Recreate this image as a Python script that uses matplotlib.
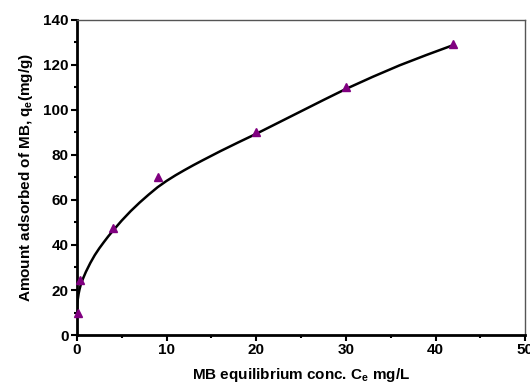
import matplotlib
matplotlib.use("Agg")
import matplotlib.pyplot as plt
from matplotlib.ticker import MultipleLocator

plt.rcParams['font.family'] = ['Liberation Sans', 'DejaVu Sans']
plt.rcParams['font.weight'] = 'bold'
plt.rcParams['mathtext.fontset'] = 'custom'
plt.rcParams['mathtext.rm'] = 'Liberation Sans:bold'
plt.rcParams['mathtext.it'] = 'Liberation Sans:bold'
plt.rcParams['mathtext.bf'] = 'Liberation Sans:bold'

# measured points
ce = [0.1, 0.4, 4, 9, 20, 30, 42]
qe = [9.8, 24.5, 47.5, 70.3, 90.2, 110.2, 129]

# fitted curve
fit_c = [0, 0.05, 0.1, 0.2, 0.3, 0.45, 0.7, 1, 1.5, 2, 2.5, 3, 3.5, 4, 5, 6,
         7, 8, 9, 10, 11, 12, 13, 14, 16, 18, 20, 22.5, 25, 27.5, 30, 33, 36,
         39, 42]
fit_q = [10, 14, 15.8, 18.4, 20.3, 22.6, 25.2, 28, 32, 35.5, 38.5, 41.2,
         43.8, 46.2, 50.8, 55, 58.8, 62.3, 65.6, 68.4, 70.9, 73.2, 75.4, 77.5,
         81.6, 85.5, 89.3, 94.3, 99.3, 104.3, 109.2, 114.6, 119.7, 124.3, 128.7]

fig = plt.figure(figsize=(5.3, 3.83), dpi=100)
ax = fig.add_axes([0.145, 0.125, 0.846, 0.824])

ax.plot(fit_c, fit_q, color='black', lw=1.8, zorder=2)
ax.plot(ce, qe, '^', color='#800080', ms=6, zorder=3, clip_on=False)

ax.set_xlim(0, 50)
ax.set_ylim(0, 140)
ax.xaxis.set_major_locator(MultipleLocator(10))
ax.xaxis.set_minor_locator(MultipleLocator(5))
ax.yaxis.set_major_locator(MultipleLocator(20))
ax.yaxis.set_minor_locator(MultipleLocator(10))
ax.tick_params(which='both', direction='out', width=1.5, labelsize=11,
               top=False, right=False, pad=2)
ax.tick_params(which='major', length=4)
ax.tick_params(which='minor', length=2.5)

for s in ['left', 'bottom']:
    ax.spines[s].set_linewidth(2)
    ax.spines[s].set_color('black')
for s in ['top', 'right']:
    ax.spines[s].set_linewidth(1)
    ax.spines[s].set_color('#555555')

ax.set_xlabel('MB equilibrium conc. C$_e$ mg/L', fontsize=11, fontweight='bold', labelpad=6)
ax.set_ylabel('Amount adsorbed of MB, q$_e$(mg/g)', fontsize=11, fontweight='bold', labelpad=6)

fig.savefig('out.png', dpi=100)
